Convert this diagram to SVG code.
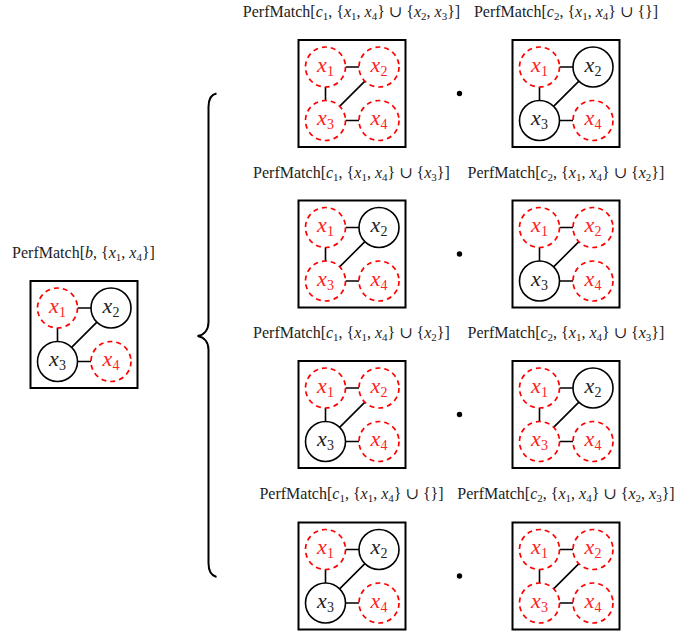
<svg xmlns="http://www.w3.org/2000/svg" width="676" height="634" viewBox="0 0 676 634">
<style>
.box{fill:none;stroke:#000;stroke-width:2}
.nb{fill:#fff;stroke:#000;stroke-width:1.6}
.nr{fill:#fff;stroke:#f00;stroke-width:1.7;stroke-dasharray:5 4}
.e{fill:none;stroke:#000;stroke-width:1.6}
.nt{font-family:"Liberation Serif","DejaVu Serif",serif;font-size:22px;text-anchor:middle}
.tb{fill:#222}
.tr{fill:#f22}
.i{font-style:italic}
.s{font-style:normal;font-size:14px}
.lb{font-family:"Liberation Serif","DejaVu Serif",serif;font-size:16px;fill:#222;text-anchor:middle}
.ls{font-size:11px}
.dot{fill:#000}
</style>
<defs>
<g id="edges">
<path class="e" d="M47,27H60.5M27,47V60.5M66.4,41.1L41.1,66.4M47,80.5H60.5"/>
</g>
</defs>

<!-- left diagram -->
<text class="lb" x="83.5" y="258">PerfMatch[<tspan class="i">b</tspan>, {<tspan class="i">x</tspan><tspan class="ls" dy="3">1</tspan><tspan dy="-3">, </tspan><tspan class="i">x</tspan><tspan class="ls" dy="3">4</tspan><tspan dy="-3">}]</tspan></text>
<g id="d0" transform="translate(30.5,281)">
<rect class="box" width="107" height="107"/>
<g id="d0-connectors"><use href="#edges"/></g>
<g id="d0-x1"><circle class="nr" cx="27" cy="27" r="20"/><text class="nt tr i" x="27" y="31.5">x<tspan class="s" dy="4">1</tspan></text></g>
<g id="d0-x2"><circle class="nb" cx="80.5" cy="27" r="20"/><text class="nt tb i" x="80.5" y="31.5">x<tspan class="s" dy="4">2</tspan></text></g>
<g id="d0-x3"><circle class="nb" cx="27" cy="80.5" r="20"/><text class="nt tb i" x="27" y="85">x<tspan class="s" dy="4">3</tspan></text></g>
<g id="d0-x4"><circle class="nr" cx="80.5" cy="80.5" r="20"/><text class="nt tr i" x="80.5" y="85">x<tspan class="s" dy="4">4</tspan></text></g>
</g>

<!-- brace -->
<path id="brace" fill="none" stroke="#000" stroke-width="2" d="M216.5,93.5C211,94.5 208.5,99 208.5,107L208.5,322C208.5,330 204,335 197.5,336C204,337 208.5,342 208.5,350L208.5,563C208.5,571 211,575.5 216.5,577"/>

<!-- row 1 -->
<text class="lb" x="351.5" y="17">PerfMatch[<tspan class="i">c</tspan><tspan class="ls" dy="3">1</tspan><tspan dy="-3">, {</tspan><tspan class="i">x</tspan><tspan class="ls" dy="3">1</tspan><tspan dy="-3">, </tspan><tspan class="i">x</tspan><tspan class="ls" dy="3">4</tspan><tspan dy="-3">} ∪ {</tspan><tspan class="i">x</tspan><tspan class="ls" dy="3">2</tspan><tspan dy="-3">, </tspan><tspan class="i">x</tspan><tspan class="ls" dy="3">3</tspan><tspan dy="-3">}]</tspan></text>
<text class="lb" x="566" y="17">PerfMatch[<tspan class="i">c</tspan><tspan class="ls" dy="3">2</tspan><tspan dy="-3">, {</tspan><tspan class="i">x</tspan><tspan class="ls" dy="3">1</tspan><tspan dy="-3">, </tspan><tspan class="i">x</tspan><tspan class="ls" dy="3">4</tspan><tspan dy="-3">} ∪ {}]</tspan></text>
<g id="d1a" transform="translate(298.5,40)">
<rect class="box" width="107" height="107"/>
<g id="d1a-connectors"><use href="#edges"/></g>
<g id="d1a-x1"><circle class="nr" cx="27" cy="27" r="20"/><text class="nt tr i" x="27" y="31.5">x<tspan class="s" dy="4">1</tspan></text></g>
<g id="d1a-x2"><circle class="nr" cx="80.5" cy="27" r="20"/><text class="nt tr i" x="80.5" y="31.5">x<tspan class="s" dy="4">2</tspan></text></g>
<g id="d1a-x3"><circle class="nr" cx="27" cy="80.5" r="20"/><text class="nt tr i" x="27" y="85">x<tspan class="s" dy="4">3</tspan></text></g>
<g id="d1a-x4"><circle class="nr" cx="80.5" cy="80.5" r="20"/><text class="nt tr i" x="80.5" y="85">x<tspan class="s" dy="4">4</tspan></text></g>
</g>
<circle class="dot" cx="459.5" cy="93.5" r="2.7"/>
<g id="d1b" transform="translate(512.5,40)">
<rect class="box" width="107" height="107"/>
<g id="d1b-connectors"><use href="#edges"/></g>
<g id="d1b-x1"><circle class="nr" cx="27" cy="27" r="20"/><text class="nt tr i" x="27" y="31.5">x<tspan class="s" dy="4">1</tspan></text></g>
<g id="d1b-x2"><circle class="nb" cx="80.5" cy="27" r="20"/><text class="nt tb i" x="80.5" y="31.5">x<tspan class="s" dy="4">2</tspan></text></g>
<g id="d1b-x3"><circle class="nb" cx="27" cy="80.5" r="20"/><text class="nt tb i" x="27" y="85">x<tspan class="s" dy="4">3</tspan></text></g>
<g id="d1b-x4"><circle class="nr" cx="80.5" cy="80.5" r="20"/><text class="nt tr i" x="80.5" y="85">x<tspan class="s" dy="4">4</tspan></text></g>
</g>

<!-- row 2 -->
<text class="lb" x="351.5" y="177.5">PerfMatch[<tspan class="i">c</tspan><tspan class="ls" dy="3">1</tspan><tspan dy="-3">, {</tspan><tspan class="i">x</tspan><tspan class="ls" dy="3">1</tspan><tspan dy="-3">, </tspan><tspan class="i">x</tspan><tspan class="ls" dy="3">4</tspan><tspan dy="-3">} ∪ {</tspan><tspan class="i">x</tspan><tspan class="ls" dy="3">3</tspan><tspan dy="-3">}]</tspan></text>
<text class="lb" x="566" y="177.5">PerfMatch[<tspan class="i">c</tspan><tspan class="ls" dy="3">2</tspan><tspan dy="-3">, {</tspan><tspan class="i">x</tspan><tspan class="ls" dy="3">1</tspan><tspan dy="-3">, </tspan><tspan class="i">x</tspan><tspan class="ls" dy="3">4</tspan><tspan dy="-3">} ∪ {</tspan><tspan class="i">x</tspan><tspan class="ls" dy="3">2</tspan><tspan dy="-3">}]</tspan></text>
<g id="d2a" transform="translate(298.5,200.5)">
<rect class="box" width="107" height="107"/>
<g id="d2a-connectors"><use href="#edges"/></g>
<g id="d2a-x1"><circle class="nr" cx="27" cy="27" r="20"/><text class="nt tr i" x="27" y="31.5">x<tspan class="s" dy="4">1</tspan></text></g>
<g id="d2a-x2"><circle class="nb" cx="80.5" cy="27" r="20"/><text class="nt tb i" x="80.5" y="31.5">x<tspan class="s" dy="4">2</tspan></text></g>
<g id="d2a-x3"><circle class="nr" cx="27" cy="80.5" r="20"/><text class="nt tr i" x="27" y="85">x<tspan class="s" dy="4">3</tspan></text></g>
<g id="d2a-x4"><circle class="nr" cx="80.5" cy="80.5" r="20"/><text class="nt tr i" x="80.5" y="85">x<tspan class="s" dy="4">4</tspan></text></g>
</g>
<circle class="dot" cx="459.5" cy="254" r="2.7"/>
<g id="d2b" transform="translate(512.5,200.5)">
<rect class="box" width="107" height="107"/>
<g id="d2b-connectors"><use href="#edges"/></g>
<g id="d2b-x1"><circle class="nr" cx="27" cy="27" r="20"/><text class="nt tr i" x="27" y="31.5">x<tspan class="s" dy="4">1</tspan></text></g>
<g id="d2b-x2"><circle class="nr" cx="80.5" cy="27" r="20"/><text class="nt tr i" x="80.5" y="31.5">x<tspan class="s" dy="4">2</tspan></text></g>
<g id="d2b-x3"><circle class="nb" cx="27" cy="80.5" r="20"/><text class="nt tb i" x="27" y="85">x<tspan class="s" dy="4">3</tspan></text></g>
<g id="d2b-x4"><circle class="nr" cx="80.5" cy="80.5" r="20"/><text class="nt tr i" x="80.5" y="85">x<tspan class="s" dy="4">4</tspan></text></g>
</g>

<!-- row 3 -->
<text class="lb" x="351.5" y="338">PerfMatch[<tspan class="i">c</tspan><tspan class="ls" dy="3">1</tspan><tspan dy="-3">, {</tspan><tspan class="i">x</tspan><tspan class="ls" dy="3">1</tspan><tspan dy="-3">, </tspan><tspan class="i">x</tspan><tspan class="ls" dy="3">4</tspan><tspan dy="-3">} ∪ {</tspan><tspan class="i">x</tspan><tspan class="ls" dy="3">2</tspan><tspan dy="-3">}]</tspan></text>
<text class="lb" x="566" y="338">PerfMatch[<tspan class="i">c</tspan><tspan class="ls" dy="3">2</tspan><tspan dy="-3">, {</tspan><tspan class="i">x</tspan><tspan class="ls" dy="3">1</tspan><tspan dy="-3">, </tspan><tspan class="i">x</tspan><tspan class="ls" dy="3">4</tspan><tspan dy="-3">} ∪ {</tspan><tspan class="i">x</tspan><tspan class="ls" dy="3">3</tspan><tspan dy="-3">}]</tspan></text>
<g id="d3a" transform="translate(298.5,361)">
<rect class="box" width="107" height="107"/>
<g id="d3a-connectors"><use href="#edges"/></g>
<g id="d3a-x1"><circle class="nr" cx="27" cy="27" r="20"/><text class="nt tr i" x="27" y="31.5">x<tspan class="s" dy="4">1</tspan></text></g>
<g id="d3a-x2"><circle class="nr" cx="80.5" cy="27" r="20"/><text class="nt tr i" x="80.5" y="31.5">x<tspan class="s" dy="4">2</tspan></text></g>
<g id="d3a-x3"><circle class="nb" cx="27" cy="80.5" r="20"/><text class="nt tb i" x="27" y="85">x<tspan class="s" dy="4">3</tspan></text></g>
<g id="d3a-x4"><circle class="nr" cx="80.5" cy="80.5" r="20"/><text class="nt tr i" x="80.5" y="85">x<tspan class="s" dy="4">4</tspan></text></g>
</g>
<circle class="dot" cx="459.5" cy="414.5" r="2.7"/>
<g id="d3b" transform="translate(512.5,361)">
<rect class="box" width="107" height="107"/>
<g id="d3b-connectors"><use href="#edges"/></g>
<g id="d3b-x1"><circle class="nr" cx="27" cy="27" r="20"/><text class="nt tr i" x="27" y="31.5">x<tspan class="s" dy="4">1</tspan></text></g>
<g id="d3b-x2"><circle class="nb" cx="80.5" cy="27" r="20"/><text class="nt tb i" x="80.5" y="31.5">x<tspan class="s" dy="4">2</tspan></text></g>
<g id="d3b-x3"><circle class="nr" cx="27" cy="80.5" r="20"/><text class="nt tr i" x="27" y="85">x<tspan class="s" dy="4">3</tspan></text></g>
<g id="d3b-x4"><circle class="nr" cx="80.5" cy="80.5" r="20"/><text class="nt tr i" x="80.5" y="85">x<tspan class="s" dy="4">4</tspan></text></g>
</g>

<!-- row 4 -->
<text class="lb" x="351.5" y="499">PerfMatch[<tspan class="i">c</tspan><tspan class="ls" dy="3">1</tspan><tspan dy="-3">, {</tspan><tspan class="i">x</tspan><tspan class="ls" dy="3">1</tspan><tspan dy="-3">, </tspan><tspan class="i">x</tspan><tspan class="ls" dy="3">4</tspan><tspan dy="-3">} ∪ {}]</tspan></text>
<text class="lb" x="566" y="499">PerfMatch[<tspan class="i">c</tspan><tspan class="ls" dy="3">2</tspan><tspan dy="-3">, {</tspan><tspan class="i">x</tspan><tspan class="ls" dy="3">1</tspan><tspan dy="-3">, </tspan><tspan class="i">x</tspan><tspan class="ls" dy="3">4</tspan><tspan dy="-3">} ∪ {</tspan><tspan class="i">x</tspan><tspan class="ls" dy="3">2</tspan><tspan dy="-3">, </tspan><tspan class="i">x</tspan><tspan class="ls" dy="3">3</tspan><tspan dy="-3">}]</tspan></text>
<g id="d4a" transform="translate(298.5,522.5)">
<rect class="box" width="107" height="107"/>
<g id="d4a-connectors"><use href="#edges"/></g>
<g id="d4a-x1"><circle class="nr" cx="27" cy="27" r="20"/><text class="nt tr i" x="27" y="31.5">x<tspan class="s" dy="4">1</tspan></text></g>
<g id="d4a-x2"><circle class="nb" cx="80.5" cy="27" r="20"/><text class="nt tb i" x="80.5" y="31.5">x<tspan class="s" dy="4">2</tspan></text></g>
<g id="d4a-x3"><circle class="nb" cx="27" cy="80.5" r="20"/><text class="nt tb i" x="27" y="85">x<tspan class="s" dy="4">3</tspan></text></g>
<g id="d4a-x4"><circle class="nr" cx="80.5" cy="80.5" r="20"/><text class="nt tr i" x="80.5" y="85">x<tspan class="s" dy="4">4</tspan></text></g>
</g>
<circle class="dot" cx="459.5" cy="576" r="2.7"/>
<g id="d4b" transform="translate(512.5,522.5)">
<rect class="box" width="107" height="107"/>
<g id="d4b-connectors"><use href="#edges"/></g>
<g id="d4b-x1"><circle class="nr" cx="27" cy="27" r="20"/><text class="nt tr i" x="27" y="31.5">x<tspan class="s" dy="4">1</tspan></text></g>
<g id="d4b-x2"><circle class="nr" cx="80.5" cy="27" r="20"/><text class="nt tr i" x="80.5" y="31.5">x<tspan class="s" dy="4">2</tspan></text></g>
<g id="d4b-x3"><circle class="nr" cx="27" cy="80.5" r="20"/><text class="nt tr i" x="27" y="85">x<tspan class="s" dy="4">3</tspan></text></g>
<g id="d4b-x4"><circle class="nr" cx="80.5" cy="80.5" r="20"/><text class="nt tr i" x="80.5" y="85">x<tspan class="s" dy="4">4</tspan></text></g>
</g>
</svg>
